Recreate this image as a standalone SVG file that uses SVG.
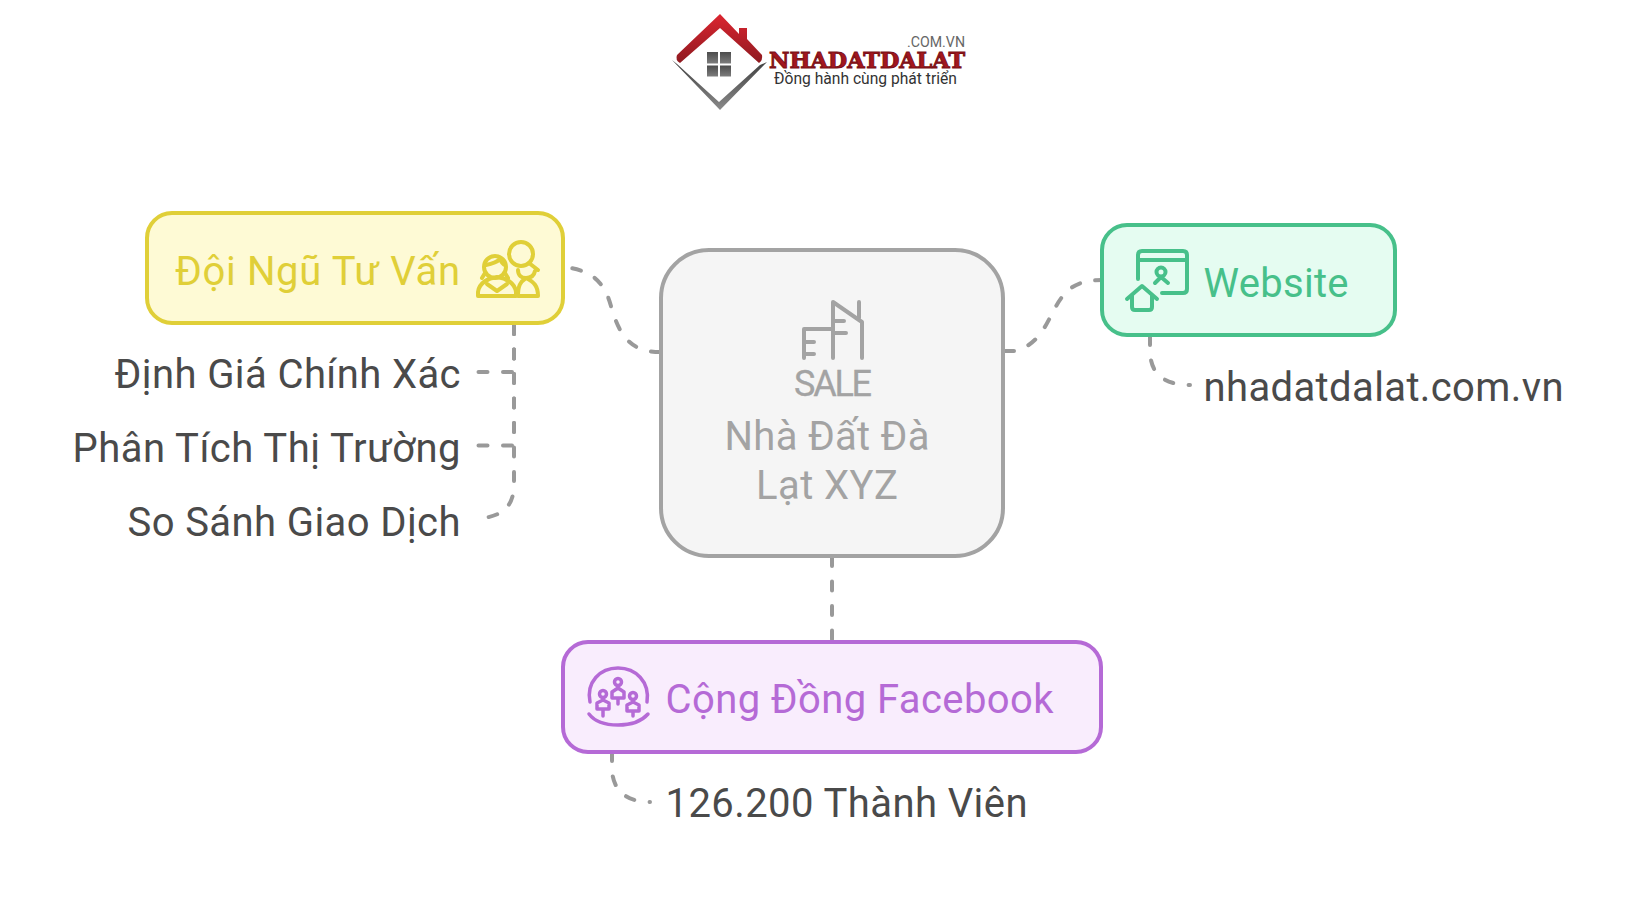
<svg xmlns="http://www.w3.org/2000/svg" width="1640" height="924" viewBox="0 0 1640 924">
<defs>
<linearGradient id="roof" x1="0" y1="0" x2="0" y2="1"><stop offset="0" stop-color="#dc2530"/><stop offset="1" stop-color="#8e1a20"/></linearGradient>
<linearGradient id="base" x1="0" y1="0" x2="0" y2="1"><stop offset="0" stop-color="#3f3f3f"/><stop offset="1" stop-color="#8a8a8a"/></linearGradient>
<linearGradient id="pane" x1="0" y1="0" x2="0" y2="1"><stop offset="0" stop-color="#4c4c4c"/><stop offset="1" stop-color="#7c7c7c"/></linearGradient>
</defs>
<style>
text{font-family:Roboto,"Noto Sans",sans-serif;font-size:40px}
.box{stroke-width:4}
.conn{fill:none;stroke:#999;stroke-width:4;stroke-linecap:round;stroke-dasharray:9 15.5}
.leaf{fill:#4a4a4a}
.ic{fill:none;stroke-width:4;stroke-linecap:round;stroke-linejoin:round}
.y{stroke:#e0cf38}.g{stroke:#47c08a}.p{stroke:#b56ad6}.n{stroke:#a3a3a3}
</style>
<rect width="1640" height="924" fill="#fff"/>
<g id="logo">
<path d="M677 55 720 14 739 34V28H747V39L762 55Q763 60 759 63L720 28 680 63Q675 60 677 55Z" fill="url(#roof)"/>
<path d="M672 60 720 110 767 62 760 65 719 102 677 64Z" fill="url(#base)"/>
<g fill="url(#pane)"><path d="M707 52h11v11.500h-11z"/><path d="M720 52h11v11.500h-11z"/><path d="M707 65.500h11v11h-11z"/><path d="M720 65.500h11v11h-11z"/></g>
<text x="907" y="47" style="font-size:15px" fill="#666" textLength="58" lengthAdjust="spacingAndGlyphs">.COM.VN</text>
<text x="769" y="68" style="font-family:'DejaVu Serif',serif;font-size:23px;font-weight:700" fill="#a3161f" stroke="#7a1015" stroke-width="1" textLength="196" lengthAdjust="spacingAndGlyphs">NHADATDALAT</text>
<text x="774" y="84" style="font-size:16px" fill="#333" textLength="183" lengthAdjust="spacingAndGlyphs">Đồng hành cùng phát triển</text>
</g>
<g id="connectors">
<path class="conn" d="M660 352C630 352 620 335 612 310C606 285 595 270 563 267"/>
<path class="conn" d="M1005 351H1015C1040 345 1048 320 1055 308C1065 290 1075 280 1102 280"/>
<path class="conn" d="M832 557V640"/>
<path class="conn" d="M514 325V372H478"/>
<path class="conn" d="M514 325V445.500H478"/>
<path class="conn" d="M514 325V483C514 505 505 517 475 519"/>
<path class="conn" d="M1150 336V350C1150 374 1164 385 1190 385"/>
<path class="conn" d="M612 752V768C612 790 626 802 650 802"/>
</g>
<g id="node-center">
<rect class="box" x="661" y="250" width="342" height="306" rx="48" fill="#f5f5f5" stroke="#a3a3a3"/>
<g class="ic n">
<path d="M833 358V302L859 320 862 322V358M859 302V318M804 358V329H832M804 342H814M804 354H814M833 321H844M833 333H846"/>
</g>
<text x="794" y="396" style="font-size:36px" fill="#a3a3a3" stroke="#a3a3a3" stroke-width=".3" textLength="78">SALE</text>
<text x="827" y="450" text-anchor="middle" fill="#a3a3a3" textLength="205">Nhà Đất Đà</text>
<text x="827" y="499" text-anchor="middle" fill="#a3a3a3" textLength="142">Lạt XYZ</text>
</g>
<g id="node-doi-ngu">
<rect class="box" x="147" y="213" width="416" height="110" rx="25" fill="#fefad5" stroke="#e0cf38"/>
<text x="175" y="285" fill="#e0cf38" textLength="285">Đội Ngũ Tư Vấn</text>
<g class="ic y">
<circle cx="521" cy="254" r="12"/><path d="M529 263 538 270"/>
<circle cx="495" cy="267" r="11"/><path d="M485 273 482 278M505 273 508 278M486 265Q496 263 500 259Q502 264 505 265"/>
<path d="M478 296H516V292C515 283 506 278 497 277C488 278 479 283 478 292Z"/><path d="M487 284 497 291 507 284"/>
<path d="M518 270C518 276 522 278 526 278C531 278 534 276 535 271M526 278C520 282 518 286 518 296H538C538 286 534 282 526 278"/>
</g>
</g>
<g id="node-website">
<rect class="box" x="1102" y="225" width="293" height="110" rx="25" fill="#e5fcf1" stroke="#47c08a"/>
<text x="1203.500" y="297" fill="#47c08a" textLength="145">Website</text>
<g class="ic g">
<path d="M1138 279V255Q1138 251 1142 251H1183Q1187 251 1187 255V289Q1187 293 1183 293H1162M1138 260H1187"/>
<circle cx="1161" cy="272" r="4.500"/><path d="M1155 283 1161 277 1168 283"/>
<path d="M1127 299 1142 286 1157 299M1132 296V307Q1132 310 1135 310H1149Q1152 310 1152 307V296"/>
</g>
</g>
<g id="node-facebook">
<rect class="box" x="563" y="642" width="538" height="110" rx="25" fill="#f9edfd" stroke="#b56ad6"/>
<text x="665.500" y="713" fill="#b56ad6" textLength="388">Cộng Đồng Facebook</text>
<g class="ic p" style="stroke-width:3.500">
<path d="M590 702C586 682 600 668 618 668C636 668 650 682 647 702"/>
<path d="M589 714C595 722 606 725 618 725C630 725 641 722 648 714"/>
<circle cx="618" cy="682" r="3.500"/><path d="M618 704V699M612 698V692L618 688 624 692V698Z"/>
<circle cx="603" cy="694" r="3.500"/><path d="M603 716V710M597 709V703L603 700 609 703V709Z"/>
<circle cx="633" cy="696" r="3.500"/><path d="M633 716V712M627 711V705L633 702 639 705V711Z"/>
</g>
</g>
<g id="leaves">
<text class="leaf" x="460.500" y="388" text-anchor="end" textLength="346">Định Giá Chính Xác</text>
<text class="leaf" x="460.500" y="462" text-anchor="end" textLength="388">Phân Tích Thị Trường</text>
<text class="leaf" x="460.500" y="536" text-anchor="end" textLength="333">So Sánh Giao Dịch</text>
<text class="leaf" x="1203.500" y="401" textLength="360">nhadatdalat.com.vn</text>
<text class="leaf" x="665.500" y="817" textLength="362">126.200 Thành Viên</text>
</g>
</svg>
